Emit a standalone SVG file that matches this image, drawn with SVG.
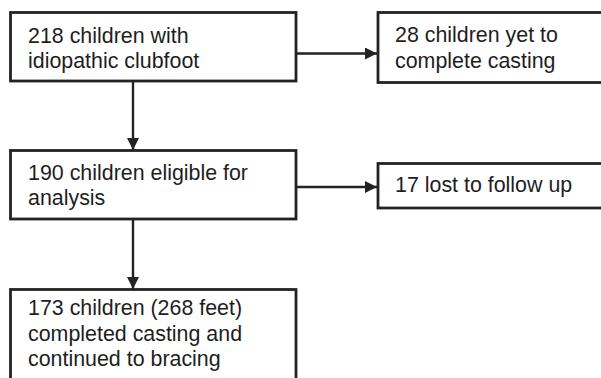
<svg xmlns="http://www.w3.org/2000/svg" width="601" height="378" viewBox="0 0 601 378">
<defs>
<style>
.box{fill:#fff;stroke:#232323;stroke-width:2.8}
.t{font-family:"Liberation Sans",Arial,sans-serif;font-size:21.4px;fill:#1e1e1e}
.c{stroke:#232323;stroke-width:2.4;fill:none}
</style>
<marker id="ah" viewBox="0 0 12 12" refX="12" refY="6" markerWidth="12" markerHeight="12" markerUnits="userSpaceOnUse" orient="auto">
<path d="M0,0 L12,6 L0,12 Z" fill="#232323"/>
</marker>
</defs>
<rect width="601" height="378" fill="#fff"/>
<g id="connectors">
<line class="c" x1="296" y1="53.5" x2="377" y2="53.5" marker-end="url(#ah)"/>
<line class="c" x1="133" y1="81" x2="133" y2="150" marker-end="url(#ah)"/>
<line class="c" x1="296" y1="187" x2="377" y2="187" marker-end="url(#ah)"/>
<line class="c" x1="133" y1="219" x2="133" y2="289" marker-end="url(#ah)"/>
</g>
<g id="n1">
<rect class="box" x="10.5" y="12.5" width="285.5" height="68.5"/>
<text class="t" x="28" y="43">218 children with</text>
<text class="t" x="28" y="68">idiopathic clubfoot</text>
</g>
<g id="n2">
<rect class="box" x="378" y="12.5" width="240" height="70"/>
<text class="t" x="395" y="42">28 children yet to</text>
<text class="t" x="395" y="68">complete casting</text>
</g>
<g id="n3">
<rect class="box" x="10.5" y="150.5" width="285.5" height="68.5"/>
<text class="t" x="28" y="180">190 children eligible for</text>
<text class="t" x="28" y="205">analysis</text>
</g>
<g id="n4">
<rect class="box" x="378" y="163.5" width="240" height="44.5"/>
<text class="t" x="395" y="192">17 lost to follow up</text>
</g>
<g id="n5">
<rect class="box" x="10.5" y="289.5" width="285.5" height="110"/>
<text class="t" x="28" y="315">173 children (268 feet)</text>
<text class="t" x="28" y="341">completed casting and</text>
<text class="t" x="28" y="366">continued to bracing</text>
</g>
</svg>
